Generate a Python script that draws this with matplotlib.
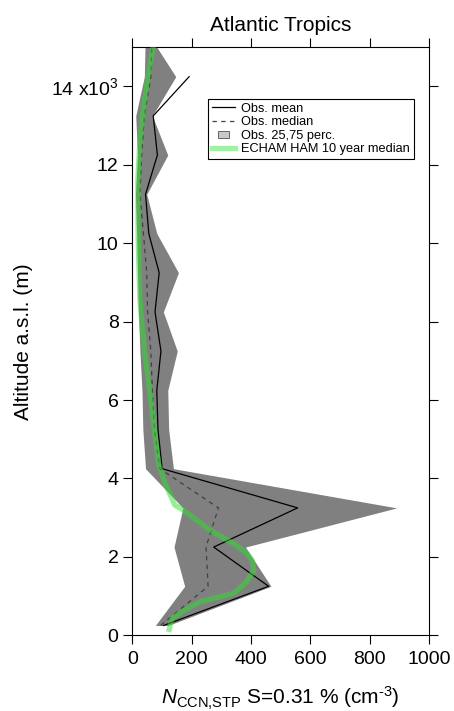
import numpy as np
import matplotlib
matplotlib.use("Agg")
import matplotlib.pyplot as plt
import matplotlib.patches as mpatches
from matplotlib.legend_handler import HandlerPatch
from matplotlib.lines import Line2D

plt.rcParams['font.family'] = ['Liberation Sans', 'DejaVu Sans']
plt.rcParams['mathtext.fontset'] = 'custom'
plt.rcParams['mathtext.rm'] = 'Liberation Sans'
plt.rcParams['mathtext.it'] = 'Liberation Sans:italic'
plt.rcParams['mathtext.bf'] = 'Liberation Sans:bold'

# observed profiles, 1 km bins (m a.s.l.)
alt_obs = [250, 1250, 2250, 3250, 4250, 5250, 6250, 7250,
           8250, 9250, 10250, 11250, 12250, 13250, 14250, 15250]
obs_mean = [105, 459, 274, 557, 100, 86, 82, 96,
            76, 90, 55, 44, 84, 70, 191, np.nan]
obs_median = [95, 255, 248, 290, 92, 74, 67, 62,
              51, 48, 37, 25, 31, 40, 62, 66]
obs_p25 = [77, 176, 140, 170, 44, 35, 32, 25,
           20, 17, 14, 10, 17, 11, 40, 43]
obs_p75 = [120, 467, 381, 891, 138, 122, 119, 151,
           104, 155, 82, 48, 119, 67, 146, 61]

# ECHAM HAM 10 year median
alt_model = [150, 430, 650, 860, 1070, 1370, 1660, 1920, 2090, 2340,
             2680, 3190, 3320, 3870, 4380, 4980, 5990, 7270, 8540,
             10160, 11600, 12620, 13470, 14320, 15000]
model_median = [124, 133, 177, 229, 341, 386, 409, 403, 386, 341,
                262, 172, 143, 110, 88, 78, 62, 40, 25,
                19, 18, 25, 37, 53, 70]

fig = plt.figure(figsize=(4.54, 7.11), dpi=100)
ax = fig.add_axes([0.2918, 0.1065, 0.6532, 0.827])

ax.fill_betweenx(alt_obs, obs_p25, obs_p75, color='#808080', lw=0, zorder=1)
ax.plot(obs_median, alt_obs, color='#404040', lw=0.9, dashes=(3.5, 3.5), zorder=2)
ax.plot(obs_mean, alt_obs, color='black', lw=0.9, zorder=3)
ax.plot(model_median, alt_model, color='#2ee02e', lw=3.8, alpha=0.5,
        solid_joinstyle='round', zorder=4)

ax.set_xlim(0, 1000)
ax.set_ylim(0, 15000)
ax.set_xticks(range(0, 1001, 200))
ax.set_yticks(range(0, 14001, 2000))
ax.set_yticklabels(['0', '2', '4', '6', '8', '10', '12', '14 x10$^{3}$'])
ax.tick_params(direction='out', length=6.5, width=0.8, labelsize=14,
               top=True, right=True, labeltop=False, labelright=False)
ax.tick_params(axis='x', pad=5)
for s in ax.spines.values():
    s.set_linewidth(0.8)

ax.set_title('Atlantic Tropics', fontsize=15, pad=12)
ax.set_ylabel('Altitude a.s.l. (m)', fontsize=15, labelpad=13)
ax.set_xlabel(r'$N_{\mathrm{CCN{,}STP}}$ S=0.31 % (cm$^{\text{-}3}$)', fontsize=15, labelpad=12)


def small_box(legend, orig_handle, xdescent, ydescent, width, height, fontsize):
    return mpatches.Rectangle((0.25 * width - xdescent, 0.1 * height - ydescent),
                              0.5 * width, 0.8 * height)


handles = [
    Line2D([], [], color='black', lw=0.9),
    Line2D([], [], color='#404040', lw=0.9, dashes=(3.5, 3.5)),
    mpatches.Patch(facecolor='#c8c8c8', edgecolor='#505050', lw=0.6),
    Line2D([], [], color='#2ee02e', lw=3.8, alpha=0.45),
]
labels = ['Obs. mean', 'Obs. median', 'Obs. 25,75 perc.', 'ECHAM HAM 10 year median']
leg = ax.legend(handles, labels, loc='upper left', bbox_to_anchor=(0.2546, 0.912),
                fontsize=9.2, frameon=True, fancybox=False, framealpha=1,
                edgecolor='black', borderaxespad=0, borderpad=0.3,
                labelspacing=0.12, handlelength=1.8, handletextpad=0.5,
                handler_map={mpatches.Patch: HandlerPatch(patch_func=small_box)})
leg.get_frame().set_linewidth(0.8)

fig.savefig('out.png', dpi=100)
